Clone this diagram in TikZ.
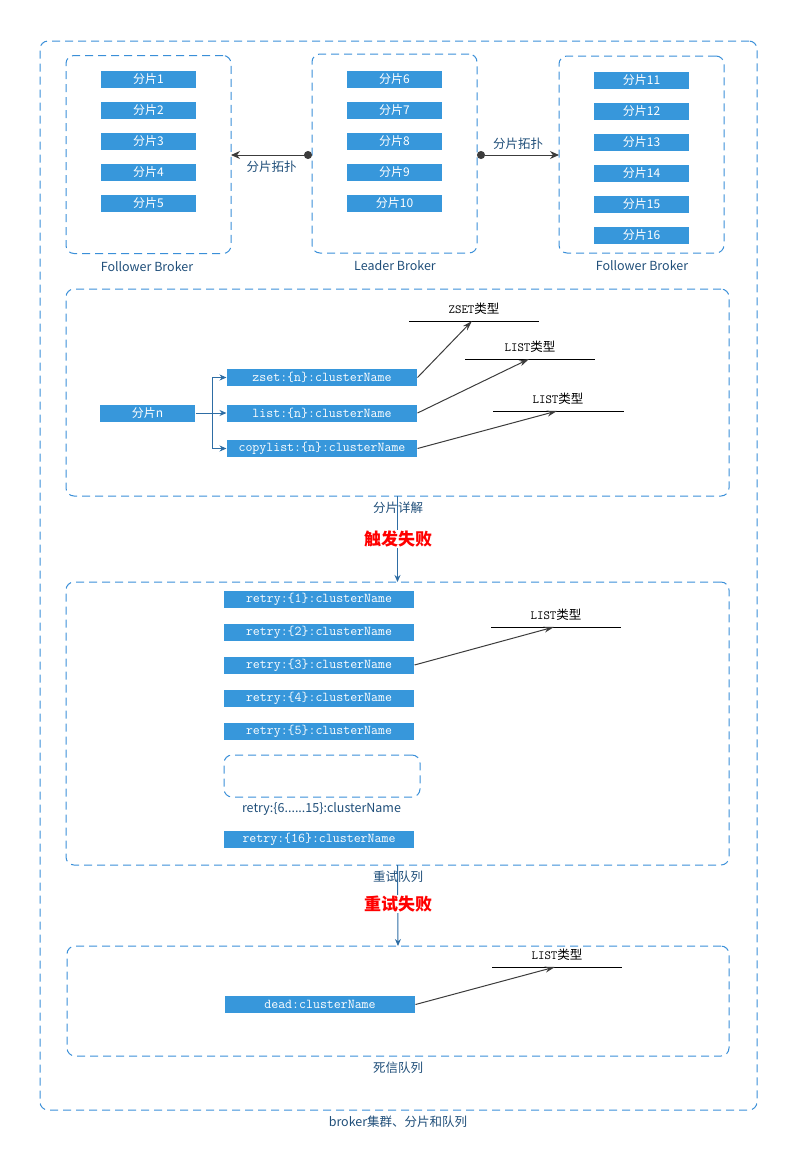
\documentclass[tikz,border=0pt]{standalone}
\usepackage{fontspec}
\setmainfont{Noto Sans CJK SC}
\usetikzlibrary{arrows.meta}

\definecolor{boxblue}{HTML}{3797DB}
\definecolor{dashblue}{HTML}{3A8FD8}
\definecolor{textblue}{HTML}{1F4E79}
\definecolor{linkblue}{HTML}{2E6DA4}
\definecolor{arrowgray}{HTML}{3C3C3C}
\definecolor{failred}{HTML}{FF0000}

\begin{document}
\begin{tikzpicture}[x=1pt, y=-1pt, line width=1pt,
		shard_style/.style={rectangle,fill=boxblue,text=white,minimum width=95pt,minimum height=17pt,inner sep=0pt,font=\fontsize{12}{12}\selectfont},
		key_style/.style={shard_style,minimum width=190pt,font=\ttfamily\fontsize{13.5}{13.5}\selectfont},
		group_style/.style={draw=dashblue,dash pattern=on 8pt off 5pt,rounded corners=8pt,inner sep=0pt,outer sep=0pt},
		label_style/.style={text=textblue,font=\fontsize{12.5}{13}\selectfont},
		type_style/.style={text=black,font=\fontsize{12.5}{13}\selectfont},
		fail_style/.style={text=failred,fill=white,inner sep=1pt,font=\bfseries\fontsize{17}{19}\selectfont},
		topo_edge/.style={draw=arrowgray,{Circle[length=8pt]}-{Stealth[length=9pt,width=8pt]}},
		fork_edge/.style={draw=linkblue,-{Stealth[length=7pt,width=6pt]}},
		type_edge/.style={draw=arrowgray,-{Stealth[length=10pt,width=6pt]}},
		type_line/.style={draw=black}]

		\useasboundingbox (0,0) rectangle (794,1171);

		% frames
		\node[group_style,minimum width=717pt,minimum height=1069pt] (all) at (398.5,575.5) {};
		\node[group_style,minimum width=165pt,minimum height=198pt] (b1) at (148.5,154.5) {};
		\node[group_style,minimum width=165pt,minimum height=199pt] (b2) at (394.5,153.5) {};
		\node[group_style,minimum width=165pt,minimum height=197pt] (b3) at (641.5,154.5) {};
		\node[group_style,minimum width=663pt,minimum height=207pt] (sec2) at (397.5,392.5) {};
		\node[group_style,minimum width=663pt,minimum height=283pt] (sec3) at (397.5,723.5) {};
		\node[group_style,minimum width=662pt,minimum height=110pt] (sec4) at (398,1001) {};
		\node[group_style,minimum width=196pt,minimum height=42pt] (rest) at (322,776) {};

		% brokers
		\node[shard_style] (s1) at (148.5,79) {分片1};
		\node[shard_style] (s2) at (148.5,110) {分片2};
		\node[shard_style] (s3) at (148.5,141) {分片3};
		\node[shard_style] (s4) at (148.5,172) {分片4};
		\node[shard_style] (s5) at (148.5,203) {分片5};
		\node[shard_style] (s6) at (394.5,79) {分片6};
		\node[shard_style] (s7) at (394.5,110) {分片7};
		\node[shard_style] (s8) at (394.5,141) {分片8};
		\node[shard_style] (s9) at (394.5,172) {分片9};
		\node[shard_style] (s10) at (394.5,203) {分片10};
		\node[shard_style] (s11) at (641.5,80) {分片11};
		\node[shard_style] (s12) at (641.5,111) {分片12};
		\node[shard_style] (s13) at (641.5,142) {分片13};
		\node[shard_style] (s14) at (641.5,173) {分片14};
		\node[shard_style] (s15) at (641.5,204) {分片15};
		\node[shard_style] (s16) at (641.5,235) {分片16};

		\node[label_style] (lb1) at (147,267) {Follower Broker};
		\node[label_style] (lb2) at (395,266) {Leader Broker};
		\node[label_style] (lb3) at (642,266) {Follower Broker};

		\coordinate (tl1) at (312,155);
		\coordinate (tl2) at (231,155);
		\coordinate (tr1) at (477,155);
		\coordinate (tr2) at (559,155);
		\draw[topo_edge] (tl1) -- node[label_style,below=2pt] {分片拓扑} (tl2);
		\draw[topo_edge] (tr1) -- node[label_style,above=2pt] {分片拓扑} (tr2);

		% shard detail
		\node[shard_style] (sn) at (147.5,413) {分片n};
		\node[key_style] (zset) at (322,377.5) {zset:\{n\}:clusterName};
		\node[key_style] (list) at (322,413) {list:\{n\}:clusterName};
		\node[key_style] (copy) at (322,448.5) {copylist:\{n\}:clusterName};
		\coordinate (fork) at ([xshift=17pt]sn.east);
		\draw[draw=linkblue] (sn.east) -- (fork);
		\draw[fork_edge] (fork) |- (zset.west);
		\draw[fork_edge] (fork) -- (list.west);
		\draw[fork_edge] (fork) |- (copy.west);

		\node[type_style] (tz) at (474,309) {{\ttfamily ZSET}类型};
		\coordinate (tzl) at (409,321);
		\coordinate (tzr) at (539,321);
		\coordinate (tza) at (472,321);
		\node[type_style] (ta) at (530,347) {{\ttfamily LIST}类型};
		\coordinate (tal) at (465,359);
		\coordinate (tar) at (595,359);
		\coordinate (taa) at (529,359);
		\node[type_style] (tb) at (558,399) {{\ttfamily LIST}类型};
		\coordinate (tbl) at (493,411);
		\coordinate (tbr) at (624,411);
		\coordinate (tba) at (557,411);
		\draw[type_line] (tzl) -- (tzr);
		\draw[type_line] (tal) -- (tar);
		\draw[type_line] (tbl) -- (tbr);
		\draw[type_edge] (zset.east) -- (tza);
		\draw[type_edge] (list.east) -- (taa);
		\draw[type_edge] (copy.east) -- (tba);

		\draw[fork_edge] (sec2.south) -- (sec3.north);
		\node[label_style] (l2) at (398,508) {分片详解};
		\node[fail_style] (f1) at (398,539) {触发失败};

		% retry queue
		\node[key_style] (r1) at (319,599) {retry:\{1\}:clusterName};
		\node[key_style] (r2) at (319,632) {retry:\{2\}:clusterName};
		\node[key_style] (r3) at (319,665) {retry:\{3\}:clusterName};
		\node[key_style] (r4) at (319,698) {retry:\{4\}:clusterName};
		\node[key_style] (r5) at (319,731) {retry:\{5\}:clusterName};
		\node[label_style] (lr) at (321.5,809) {retry:\{6......15\}:clusterName};
		\node[key_style] (r16) at (319,839) {retry:\{16\}:clusterName};

		\node[type_style] (tc) at (556,615) {{\ttfamily LIST}类型};
		\coordinate (tcl) at (491,627);
		\coordinate (tcr) at (621,627);
		\coordinate (tca) at (554,627);
		\draw[type_line] (tcl) -- (tcr);
		\draw[type_edge] (r3.east) -- (tca);

		\draw[fork_edge] (sec3.south) -- (sec4.north);
		\node[label_style] (l3) at (398,877) {重试队列};
		\node[fail_style] (f2) at (398,904) {重试失败};

		% dead letter queue
		\node[key_style] (dead) at (320,1004.5) {dead:clusterName};
		\node[type_style] (td) at (557,955) {{\ttfamily LIST}类型};
		\coordinate (tdl) at (492,967);
		\coordinate (tdr) at (622,967);
		\coordinate (tda) at (555,967);
		\draw[type_line] (tdl) -- (tdr);
		\draw[type_edge] (dead.east) -- (tda);

		\node[label_style] (l4) at (398,1068) {死信队列};
		\node[label_style] (l5) at (398,1122) {broker集群、分片和队列};

\end{tikzpicture}
\end{document}
